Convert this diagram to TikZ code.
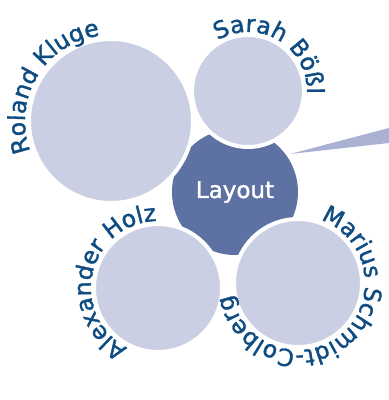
\documentclass[tikz,border=0pt]{standalone}
\usepackage{fontspec}
\setmainfont{DejaVu Sans}[FakeBold=1.5]
\usepackage{tikz}
\usetikzlibrary{decorations.text}
\definecolor{memberfill}{RGB}{203,207,227}
\definecolor{topicfill}{RGB}{93,113,163}
\definecolor{pointerfill}{RGB}{170,178,211}
\definecolor{nametext}{RGB}{14,76,130}
\newcommand\namefont{\fontsize{23.5}{28}\selectfont}

\begin{document}
\begin{tikzpicture}[x=1pt,y=1pt,
  member/.style={circle,fill=memberfill,draw=white,line width=4pt,inner sep=0pt},
  topic/.style={circle,fill=topicfill,inner sep=0pt,text=white,font=\fontsize{23}{28}\selectfont},
  namearc/.style={decorate,decoration={text along path,text align=center,text color=nametext}}]
\useasboundingbox (0,0) rectangle (389,-400);
% pointer to the right
\coordinate (tip) at (290,-154);
\fill[pointerfill] (tip) -- (389,-128) -- (389,-143) -- cycle;
\node[topic,minimum size=126pt] (layout) at (235,-192) {Layout};
\node[member,minimum size=164pt] (roland) at (111,-121) {};
\node[member,minimum size=112pt] (sarah) at (248,-91) {};
\node[member,minimum size=128pt] (alexander) at (158,-288) {};
\node[member,minimum size=128pt] (marius) at (298,-283) {};
% names round the circles
\path[namearc,decoration={text={|\namefont|Roland Kluge}}]
  (roland.center) ++(299:86) arc[start angle=299,end angle=-1,radius=86];
\path[namearc,decoration={text={|\namefont|Sarah Bößl}}]
  (sarah.center) ++(209:59) arc[start angle=209,end angle=-91,radius=59];
\path[namearc,decoration={text={|\namefont|Alexander Holz}}]
  (alexander.center) ++(317:67) arc[start angle=317,end angle=17,radius=67];
\path[namearc,decoration={text={|\namefont|Marius Schmidt-Colberg}}]
  (marius.center) ++(100:67) arc[start angle=100,end angle=-200,radius=67];
\end{tikzpicture}
\end{document}
